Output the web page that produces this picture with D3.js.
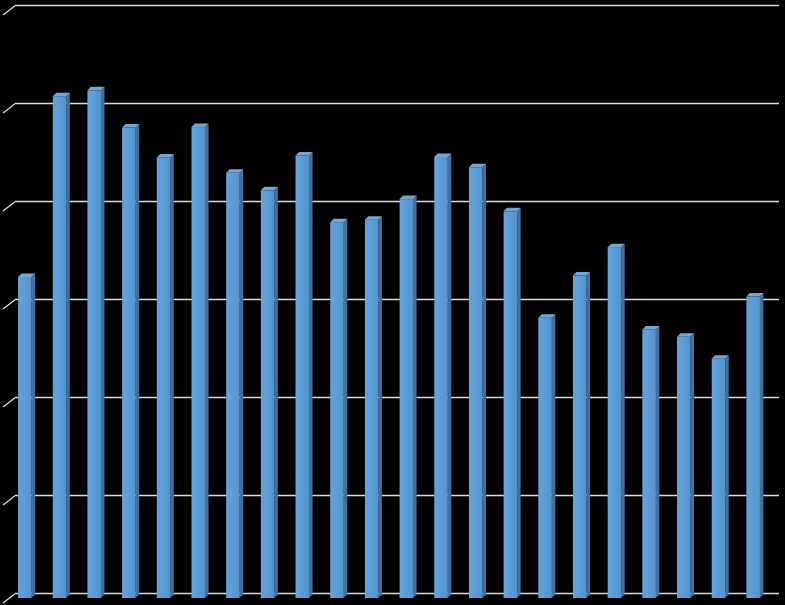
<!DOCTYPE html>
<html>
<head>
<meta charset="utf-8">
<script src="https://cdn.jsdelivr.net/npm/d3@7"></script>
<style>
html,body{margin:0;padding:0;background:#000;}
svg{display:block;}
</style>
</head>
<body>
<svg id="chart" width="785" height="605"></svg>
<script>
const categories = ["1","2","3","4","5","6","7","8","9","10","11","12","13","14","15","16","17","18","19","20","21","22"];
const values = [32.6, 51.05, 51.65, 47.85, 44.8, 47.9, 43.25, 41.45, 45.0, 38.2, 38.45, 40.55, 44.85, 43.8, 39.3, 28.45, 32.75, 35.65, 27.25, 26.5, 24.25, 30.6];
const yTicks = [0, 10, 20, 30, 40, 50, 60];

const svg = d3.select("#chart");
const W = 785, H = 605;
svg.append("rect").attr("width", W).attr("height", H).attr("fill", "#000");

const wallLeft = 16, wallRight = 779;
const x = d3.scaleBand().domain(categories).range([wallLeft, wallRight]).paddingInner(0).paddingOuter(0);
const y = d3.scaleLinear().domain([0, 60]).range([593, 5]);

const depth = 3.5;      // 3D offset of bar
const floorFront = 598; // front face bottom
const wallDx = 13, wallDy = 10;

// gridlines (back wall) + floor/side diagonals
const grid = svg.append("g").attr("class", "grid");
grid.append("g")
  .attr("transform", `translate(${wallLeft},0)`)
  .call(d3.axisLeft(y).tickValues(yTicks).tickSize(-(wallRight - wallLeft)).tickFormat(""))
  .call(g => g.select(".domain").remove())
  .call(g => g.selectAll(".tick line").attr("stroke", "#d9d9d9").attr("stroke-width", 1.3));
grid.selectAll("line.diag").data(yTicks).join("line")
  .attr("class", "diag")
  .attr("x1", wallLeft).attr("y1", d => y(d))
  .attr("x2", wallLeft - wallDx).attr("y2", d => y(d) + wallDy)
  .attr("stroke", "#d9d9d9").attr("stroke-width", 1.3);

// bars
const bw = x.bandwidth() * 0.39;
const off = x.bandwidth() * 0.06;
const bars = svg.append("g").selectAll("g.bar").data(values.map((v, i) => ({c: categories[i], v}))).join("g").attr("class", "bar");

const defs = svg.append("defs");
const grad = defs.append("linearGradient").attr("id", "frontGrad").attr("x1", "0").attr("x2", "1").attr("y1", "0").attr("y2", "0");
grad.append("stop").attr("offset", "0").attr("stop-color", "#65a3dc");
grad.append("stop").attr("offset", "0.5").attr("stop-color", "#5b9bd5");
grad.append("stop").attr("offset", "1").attr("stop-color", "#5593cc");

bars.each(function(d) {
  const g = d3.select(this);
  const x0 = x(d.c) + off;
  const yt = y(d.v) + depth;
  // side face
  g.append("path")
    .attr("d", `M${x0 + bw},${yt} L${x0 + bw + depth},${yt - depth} L${x0 + bw + depth},${floorFront - depth} L${x0 + bw},${floorFront} Z`)
    .attr("fill", "#41719c");
  // top face
  g.append("path")
    .attr("d", `M${x0},${yt} L${x0 + depth},${yt - depth} L${x0 + bw + depth},${yt - depth} L${x0 + bw},${yt} Z`)
    .attr("fill", "#6fa6d9");
  // front face
  g.append("rect")
    .attr("x", x0).attr("y", yt)
    .attr("width", bw).attr("height", floorFront - yt)
    .attr("fill", "url(#frontGrad)");
});
</script>
</body>
</html>
